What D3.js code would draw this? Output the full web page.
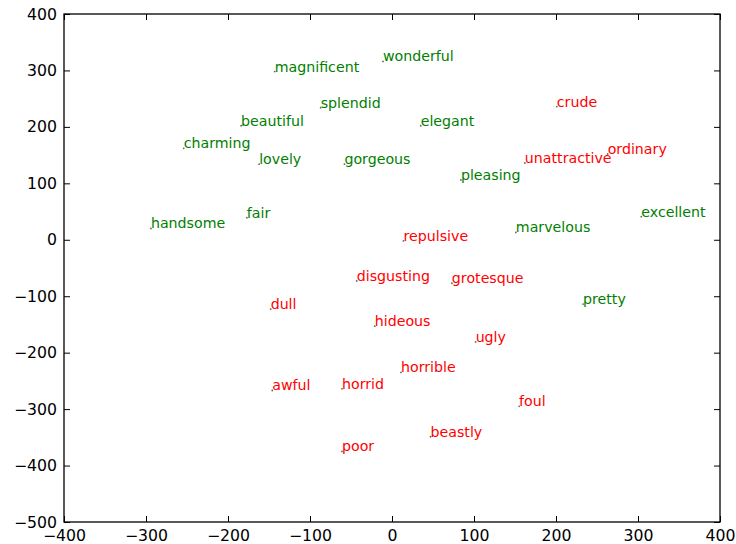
<!DOCTYPE html>
<html>
<head>
<meta charset="utf-8">
<script src="https://cdn.jsdelivr.net/npm/d3@7"></script>
<style>
  html, body { margin: 0; padding: 0; background: #fff; }
  svg { display: block; }
</style>
</head>
<body>
<svg id="chart" width="736" height="544"></svg>
<script>
const words = ["magnificent","wonderful","splendid","beautiful","elegant","charming","lovely","gorgeous","pleasing","fair","handsome","marvelous","excellent","pretty",
               "crude","ordinary","unattractive","repulsive","disgusting","grotesque","dull","hideous","ugly","horrible","awful","horrid","foul","beastly","poor"];
const xVals = [-143,-11,-87,-184,35,-254,-162,-58,84,-177,-294,151,304,233,
               201,263,162,14,-43,73,-148,-21,102,11,-146,-61,155,47,-61];
const yVals = [298,316,234,202,202,162,134,134,106,39,20,13,41,-114,
               236,152,136,-2,-73,-77,-123,-153,-181,-235,-267,-264,-295,-349,-375];
const groups = ["pos","pos","pos","pos","pos","pos","pos","pos","pos","pos","pos","pos","pos","pos",
                "neg","neg","neg","neg","neg","neg","neg","neg","neg","neg","neg","neg","neg","neg","neg"];
const xDomain = [-400, 400];
const yDomain = [-500, 400];
const xTicks = [-400,-300,-200,-100,0,100,200,300,400];
const yTicks = [-500,-400,-300,-200,-100,0,100,200,300,400];

const svg = d3.select("#chart");
const L = 64, R = 720, T = 14, B = 522;
const x = d3.scaleLinear().domain(xDomain).range([L, R]);
const y = d3.scaleLinear().domain(yDomain).range([B, T]);
const color = d3.scaleOrdinal().domain(["pos","neg"]).range(["#008000","#ff0000"]);

const fontFam = "DejaVu Sans, sans-serif";
const tickLen = 6;

const axB = svg.append("g").attr("transform", `translate(0,${B})`)
  .call(d3.axisBottom(x).tickValues(xTicks).tickSizeInner(-tickLen).tickSizeOuter(0).tickPadding(8));
const axT = svg.append("g").attr("transform", `translate(0,${T})`)
  .call(d3.axisTop(x).tickValues(xTicks).tickSizeInner(-tickLen).tickSizeOuter(0).tickFormat(""));
const axL = svg.append("g").attr("transform", `translate(${L},0)`)
  .call(d3.axisLeft(y).tickValues(yTicks).tickSizeInner(-tickLen).tickSizeOuter(0).tickPadding(7));
const axR = svg.append("g").attr("transform", `translate(${R},0)`)
  .call(d3.axisRight(y).tickValues(yTicks).tickSizeInner(-tickLen).tickSizeOuter(0).tickFormat(""));

[axB, axT, axL, axR].forEach(a => {
  a.select(".domain").remove();
  a.selectAll(".tick line").attr("stroke", "#000").attr("stroke-width", 1);
  a.selectAll("text").attr("font-family", fontFam).attr("font-size", "15.7px").attr("fill", "#000");
});

svg.append("rect").attr("x", L).attr("y", T).attr("width", R - L).attr("height", B - T)
  .attr("fill", "none").attr("stroke", "#000").attr("stroke-width", 1.3);

const data = words.map((w, i) => ({w, x: xVals[i], y: yVals[i], g: groups[i]}));

svg.append("g").selectAll("circle").data(data).enter().append("circle")
  .attr("cx", d => x(d.x)).attr("cy", d => y(d.y)).attr("r", 0.9)
  .attr("fill", "#666");

svg.append("g").selectAll("text").data(data).enter().append("text")
  .attr("x", d => x(d.x)).attr("y", d => y(d.y))
  .attr("font-family", fontFam).attr("font-size", "14.2px")
  .attr("fill", d => color(d.g))
  .text(d => d.w);
</script>
</body>
</html>
